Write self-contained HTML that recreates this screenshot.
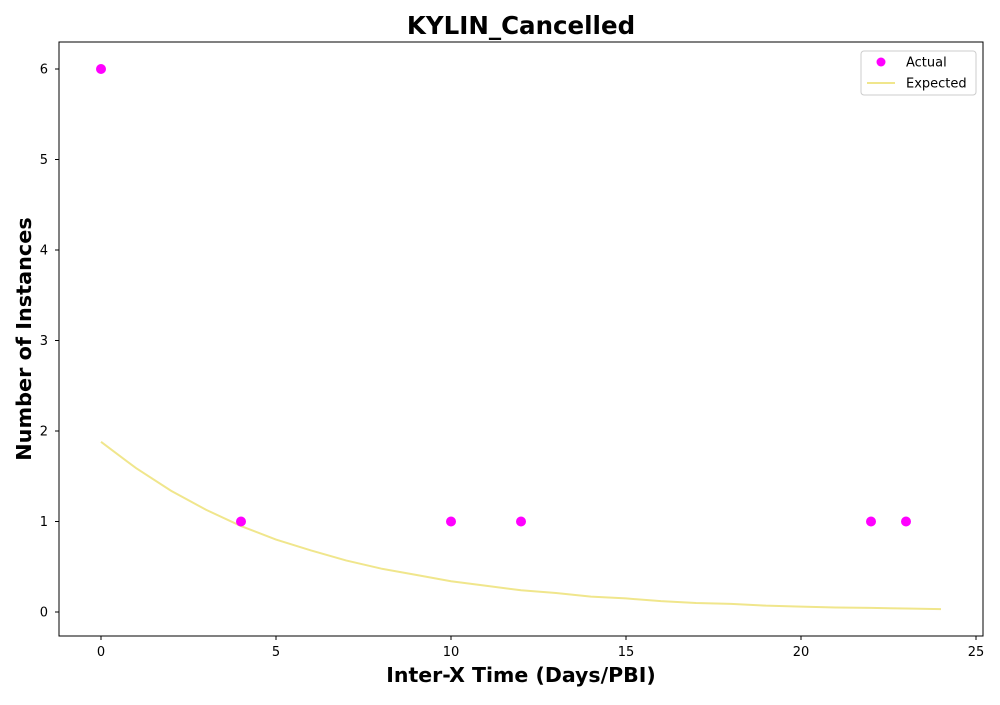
<!DOCTYPE html>
<html><head><meta charset="utf-8"><style>
body{margin:0;background:#fff;font-family:"Liberation Sans","DejaVu Sans",sans-serif}
svg text{font-family:"DejaVu Sans","Liberation Sans",sans-serif}
</style></head><body>
<svg id="chart" width="1000" height="700">
<text x="521" y="34" text-anchor="middle" font-size="24.5" font-weight="bold">KYLIN_Cancelled</text>
<rect x="59" y="42" width="924" height="594" fill="none" stroke="#000" stroke-width="1"/>
<g id="ticks"></g>
<g id="marks"></g>
<text x="521" y="682" text-anchor="middle" font-size="20.5" font-weight="bold">Inter-X Time (Days/PBI)</text>
<text transform="translate(31,339) rotate(-90)" text-anchor="middle" font-size="20.8" font-weight="bold">Number of Instances</text>
<g>
<rect x="861" y="51" width="115" height="44" rx="3" fill="#fff" stroke="#ccc"/>
<circle cx="881" cy="62" r="4.5" fill="#ff00ff"/>
<text x="906" y="66.5" font-size="13">Actual</text>
<line x1="867" y1="83" x2="895" y2="83" stroke="#f0e68c" stroke-width="2"/>
<text x="906" y="87.5" font-size="13">Expected</text>
</g>
</svg>
<script>
const actualX=[0,4,10,12,22,23];
const actualY=[6,1,1,1,1,1];
const expectedX=[0,1,2,3,4,5,6,7,8,9,10,11,12,13,14,15,16,17,18,19,20,21,22,23,24];
const expectedY=[1.88,1.59,1.34,1.13,0.95,0.80,0.68,0.57,0.48,0.41,0.34,0.29,0.24,0.21,0.17,0.15,0.12,0.10,0.09,0.07,0.06,0.05,0.045,0.038,0.032];
const xTicks=[0,5,10,15,20,25];
const yTicks=[0,1,2,3,4,5,6];
const NS="http://www.w3.org/2000/svg";
function sx(v){return 101+v*35;}
function sy(v){return 612-v*90.5;}
const ticks=document.getElementById('ticks'),marks=document.getElementById('marks');
function mk(tag,attrs,parent){const e=document.createElementNS(NS,tag);for(const k in attrs)e.setAttribute(k,attrs[k]);parent.appendChild(e);return e;}
xTicks.forEach(t=>{
 const l=mk('line',{x1:sx(t),x2:sx(t),y1:636,y2:640,stroke:'#000'},ticks);
 
 
 const tx=mk('text',{x:sx(t),y:656,'text-anchor':'middle','font-size':13},ticks);tx.textContent=t;
 
 
});
yTicks.forEach(t=>{
 const l=mk('line',{x1:55,x2:59,y1:sy(t),y2:sy(t),stroke:'#000'},ticks);
 
 
 const tx=mk('text',{x:48,y:sy(t)+4.5,'text-anchor':'end','font-size':13},ticks);tx.textContent=t;
 
 
});
const pts=expectedX.map((x,i)=>sx(x)+','+sy(expectedY[i])).join(' ');
const pl=mk('polyline',{points:pts,fill:'none',stroke:'#f0e68c','stroke-width':2},marks);


actualX.forEach((x,i)=>{
 const c=mk('circle',{cx:sx(x),cy:sy(actualY[i]),r:5,fill:'#ff00ff'},marks);
 
 
});
</script>
</body></html>
